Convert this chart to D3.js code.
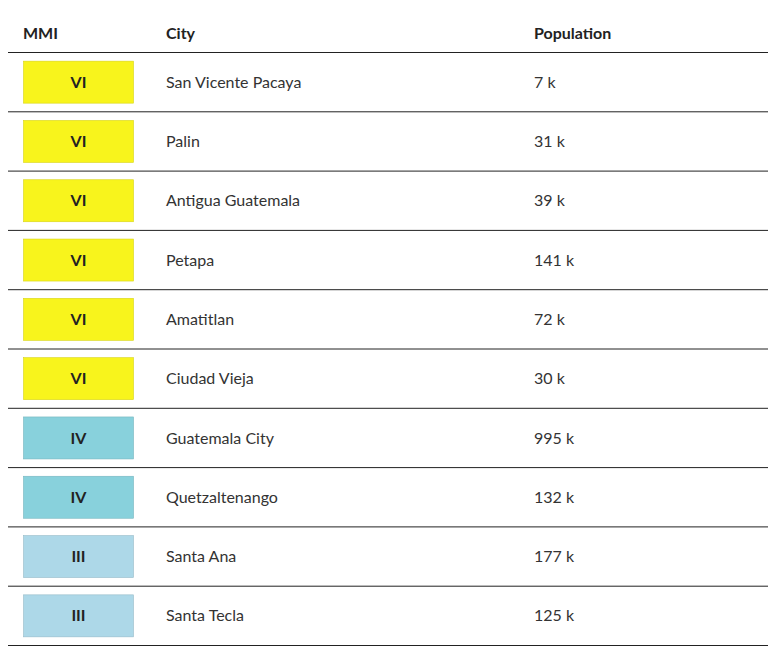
<!DOCTYPE html><html><head><meta charset="utf-8">
<script src="https://cdn.jsdelivr.net/npm/d3@7"></script>
<style>body{margin:0;background:#fff}text{font-family:Lato,"Noto Sans",sans-serif}</style></head><body>
<svg id="c" width="775" height="657"></svg>
<script>
const headers=["MMI","City","Population"];
const mmi=["VI","VI","VI","VI","VI","VI","IV","IV","III","III"];
const cities=["San Vicente Pacaya","Palin","Antigua Guatemala","Petapa","Amatitlan","Ciudad Vieja","Guatemala City","Quetzaltenango","Santa Ana","Santa Tecla"];
const population=[7,31,39,141,72,30,995,132,177,125];
const colors={"VI":"#f8f41c","IV":"#88d1dc","III":"#add8e8"};
const svg=d3.select("#c");
const y=d3.scaleBand().domain(d3.range(cities.length)).range([52.5,645.5]);
const hy=33;
[[23,headers[0]],[166,headers[1]],[534,headers[2]]].forEach(([x,t])=>svg.append("text").attr("x",x).attr("y",hy).attr("dy","0.35em").attr("font-size",16).attr("font-weight",700).attr("fill","#222").text(t));
svg.append("line").attr("x1",8).attr("x2",768).attr("y1",52.5).attr("y2",52.5).attr("stroke","#222");
const g=svg.selectAll("g.r").data(cities).join("g").attr("transform",(d,i)=>`translate(0,${y(i)})`);
const h=y.bandwidth();
g.append("rect").attr("x",23.5).attr("y",(h-42)/2).attr("width",110).attr("height",42).attr("fill",(d,i)=>colors[mmi[i]]).attr("stroke",(d,i)=>d3.color(colors[mmi[i]]).darker(0.4)).attr("stroke-width",0.6);
g.append("text").attr("x",78.5).attr("y",h/2).attr("dy","0.35em").attr("text-anchor","middle").attr("font-size",16).attr("font-weight",700).attr("fill","#222").text((d,i)=>mmi[i]);
g.append("text").attr("x",166).attr("y",h/2).attr("dy","0.35em").attr("font-size",16).attr("fill","#333").text(d=>d);
g.append("text").attr("x",534).attr("y",h/2).attr("dy","0.35em").attr("font-size",16).attr("fill","#333").text((d,i)=>population[i]+" k");
g.append("line").attr("x1",8).attr("x2",768).attr("y1",h).attr("y2",h).attr("stroke","#222");
</script></body></html>
